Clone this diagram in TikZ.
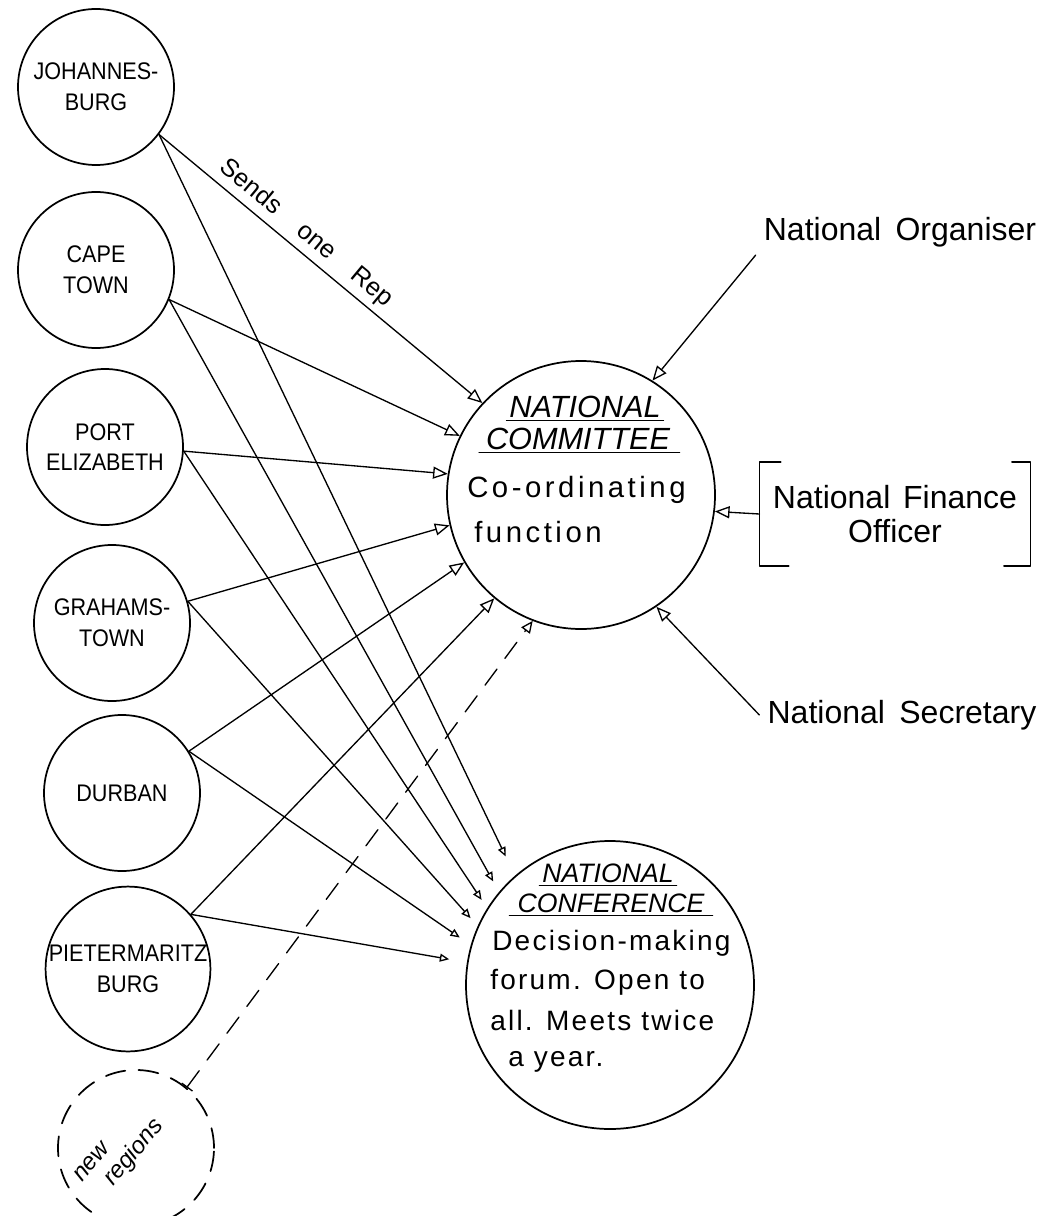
\documentclass[tikz,border=0pt]{standalone}
\usepackage{fontspec}
\setmainfont{Liberation Sans}
\newfontfamily\cityfont[FakeStretch=0.9]{Liberation Sans}
\newfontfamily\bodyfont[LetterSpace=8]{Liberation Sans}
\newfontfamily\wideBody[LetterSpace=12]{Liberation Sans}
\usetikzlibrary{arrows.meta}
\begin{document}
\begin{tikzpicture}[x=0.75pt,y=-0.75pt,
  line cap=round, line join=round,
  city/.style={draw, circle, line width=1.3pt, minimum size=117pt, inner sep=0pt, align=center,
    font=\cityfont\fontsize{18}{23}\selectfont},
  hub/.style={draw, circle, line width=1.3pt, inner sep=0pt},
  link/.style={line width=1pt},
  tocomm/.style={link, -{Triangle[open, length=11pt, width=9pt, line width=1pt]}},
  toconf/.style={link, -{Triangle[open, length=7pt, width=6pt, line width=1pt]}},
  lbl/.style={font=\fontsize{24}{26}\selectfont, inner sep=6pt},
  ctitle/.style={font=\itshape\fontsize{23}{26}\selectfont, inner sep=2pt},
  cbody/.style={font=\wideBody\fontsize{22}{26}\selectfont, inner sep=0pt, anchor=west},
  ftitle/.style={font=\itshape\fontsize{20}{24}\selectfont, inner sep=2pt},
  fbody/.style={font=\bodyfont\fontsize{21}{26}\selectfont, inner sep=0pt, anchor=west},
]
\useasboundingbox (0,0) rectangle (1062,1216);
\clip (0,0) rectangle (1062,1216);
\fill[white] (0,0) rectangle (1062,1216);

% city circles
\node[city] (jhb) at (96,87) {JOHANNES-\\BURG};
\node[city] (cpt) at (96,270) {CAPE\\TOWN};
\node[city] (pe) at (105,447) {PORT\\ELIZABETH};
\node[city] (gt) at (112,623) {GRAHAMS-\\TOWN};
\node[city] (dbn) at (122,793) {DURBAN};
\node[city, minimum size=120pt] (pmb) at (128,969) {PIETERMARITZ\\BURG};
\node[city, dash pattern=on 15pt off 10pt] (nr) at (136,1148) {};
\node[font=\itshape\fontsize{18}{20}\selectfont, rotate=50, align=left, inner sep=0pt] (nrt) at (120,1152) {new\\\hspace{0.7em}regions};

% hubs
\node[hub, minimum size=201pt] (comm) at (581,495) {};
\node[hub, minimum size=216pt] (conf) at (610,985) {};

% committee text
\node[ctitle] (cn1) at (585,407) {NATIONAL};
\node[ctitle] (cn2) at (578,439) {COMMITTEE};
\draw[link] (cn1.south west) -- (cn1.south east);
\draw[link] ([xshift=-3pt]cn2.south west) -- ([xshift=5pt]cn2.south east);
\node[cbody] (cb1) at (467,490) {Co-ordinating};
\node[cbody] (cb2) at (474,532) {function};

% conference text
\node[ftitle] (fn1) at (608,873) {NATIONAL};
\node[ftitle] (fn2) at (611,903) {CONFERENCE};
\draw[link] (fn1.south west) -- (fn1.south east);
\draw[link] ([xshift=-4pt]fn2.south west) -- ([xshift=4pt]fn2.south east);
\node[fbody] (fb1) at (492,943) {Decision-making};
\node[fbody] (fb2) at (490,982) {forum. Open to};
\node[fbody] (fb3) at (490,1020) {all. Meets twice};
\node[fbody] (fb4) at (508,1062) {a year.};

% officers
\node[lbl] (org) at (900,232) {National\hspace{0.45em}Organiser};
\node[lbl, align=center, minimum width=203pt, minimum height=78pt] (fin) at (895,514) {National\hspace{0.4em}Finance\\Officer};
\node[lbl] (sec) at (902,715) {National\hspace{0.45em}Secretary};
\draw[line width=1.2pt] ([xshift=16pt]fin.north west) -- (fin.north west) -- (fin.south west) -- ([xshift=22pt]fin.south west);
\draw[line width=1.2pt] ([xshift=-14pt]fin.north east) -- (fin.north east) -- (fin.south east) -- ([xshift=-20pt]fin.south east);

\draw[tocomm] (org.south west) -- (comm.58.3);
\draw[tocomm] (fin.west) -- (comm.-7.4);
\draw[tocomm] (sec.west) -- (comm.-56.8);

% cities to committee
\draw[tocomm] (jhb.-37) -- node[pos=0.42, sloped, above=4pt, inner sep=0pt, font=\fontsize{19}{20}\selectfont] (rep) {Sends\hspace{1.1em}one\hspace{1.1em}Rep} (comm.137);
\draw[tocomm] (cpt.-22) -- (comm.154);
\draw[tocomm] (pe.-3.6) -- (comm.171.6);
\draw[tocomm] (gt.16.4) -- (comm.-167.3);
\draw[tocomm] (dbn.32) -- (comm.-150.2);
\draw[tocomm] (pmb.41.5) -- (comm.-130.4);
\draw[link, dash pattern=on 15pt off 10pt, {Bar[width=10pt, line width=1pt]}-{Triangle[open, length=9pt, width=8pt, line width=1pt]}] (nr.50.7) -- (comm.-111.1);

% cities to conference
\draw[toconf, shorten >=16pt] (jhb.-37) -- (conf.131.8);
\draw[toconf, shorten >=9pt] (cpt.-22) -- (conf.140.2);
\draw[toconf, shorten >=7.5pt] (pe.-3.6) -- (conf.148.8);
\draw[toconf, shorten >=8pt] (gt.16.4) -- (conf.156.1);
\draw[toconf, shorten >=10pt] (dbn.32) -- (conf.164.2);
\draw[toconf, shorten >=13.5pt] (pmb.41.5) -- (conf.171.1);
\end{tikzpicture}
\end{document}
